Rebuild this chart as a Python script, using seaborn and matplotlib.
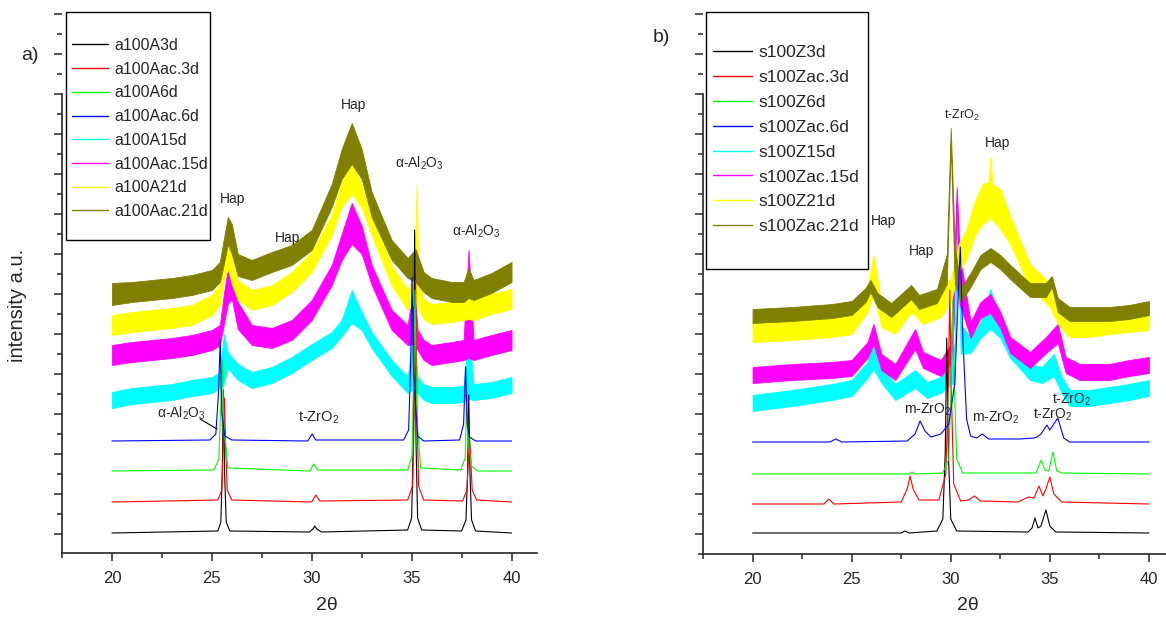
import matplotlib
matplotlib.use("Agg")
import matplotlib.pyplot as plt
from matplotlib.lines import Line2D
from matplotlib.patches import Rectangle
from matplotlib.ticker import MultipleLocator
import seaborn as sns

# ---------------------------------------------------------------- data (a.u.)
# panel a) -- sharp (clean) patterns
a3d_x = [20, 25.3, 25.45, 25.52, 25.58, 25.64, 25.72, 25.9, 29.9, 30.1, 30.15, 30.25, 30.5,
         34.8, 35.0, 35.08, 35.15, 35.22, 35.3, 35.5, 37.5, 37.72, 37.8, 37.86, 37.92, 38.0, 38.2, 40]
a3d_y = [1, 3, 12, 60, 144, 60, 12, 3, 2, 6, 8, 5, 2,
         4, 16, 90, 304, 90, 16, 4, 3, 14, 60, 139, 60, 14, 3, 1]
aac3d_x = [20, 25.3, 25.5, 25.57, 25.63, 25.69, 25.77, 26.0, 30.0, 30.2, 30.4, 34.8, 35.05,
           35.13, 35.2, 35.27, 35.35, 35.6, 37.55, 37.77, 37.85, 37.9, 37.95, 38.03, 38.25, 40]
aac3d_y = [32, 34, 44, 90, 136, 90, 44, 34, 32, 39, 33, 34, 48,
           120, 254, 120, 48, 34, 33, 44, 80, 96, 80, 44, 34, 32]
a6d_x = [20, 25.1, 25.35, 25.45, 25.52, 25.6, 25.8, 29.9, 30.1, 30.3, 34.8, 35.02, 35.1,
         35.17, 35.25, 35.45, 37.45, 37.68, 37.76, 37.84, 38.0, 38.3, 40]
a6d_y = [63, 64, 75, 130, 174, 110, 66, 63, 70, 64, 64, 78, 160,
         244, 120, 66, 64, 76, 137, 90, 68, 63, 63]
aac6d_x = [20, 24.9, 25.2, 25.33, 25.42, 25.5, 25.65, 26.0, 29.8, 30.02, 30.2, 34.6, 34.85,
           34.95, 35.02, 35.1, 35.3, 35.6, 37.4, 37.6, 37.7, 37.78, 37.9, 38.2, 40]
aac6d_y = [93, 94, 100, 140, 194, 120, 98, 94, 93, 100, 94, 94, 104,
           170, 257, 160, 98, 93, 94, 110, 167, 110, 97, 93, 93]

# panel a) -- noisy patterns, read as lower / upper envelope of the noise
a15d_x = [20, 21, 22, 23, 24, 25, 25.4, 25.6, 25.8, 26.0, 26.3, 27, 28, 29, 30, 31, 31.5,
          32, 32.5, 33, 34, 34.8, 35.1, 35.3, 35.6, 36, 37, 37.6, 37.85, 38.1, 39, 40]
a15d_lo = [126, 130, 132, 134, 138, 141, 146, 150, 166, 161, 154, 146, 151, 161, 174, 186, 198,
           211, 204, 186, 158, 141, 145, 141, 134, 131, 131, 132, 135, 134, 136, 141]
a15d_hi = [142, 146, 148, 150, 154, 157, 162, 200, 182, 177, 170, 162, 167, 177, 190, 202, 214,
           244, 222, 202, 174, 157, 205, 157, 150, 147, 147, 148, 205, 150, 152, 157]
aac15d_x = a15d_x
aac15d_lo = [169, 172, 174, 176, 179, 184, 189, 210, 230, 235, 205, 189, 186, 194, 214, 249, 274,
             290, 280, 249, 204, 189, 190, 184, 174, 169, 172, 174, 176, 174, 179, 184]
aac15d_hi = [189, 192, 194, 196, 199, 204, 209, 240, 265, 269, 232, 209, 206, 214, 234, 269, 300,
             331, 308, 269, 224, 209, 250, 204, 194, 189, 192, 194, 284, 194, 199, 204]
a21d_x = [20, 21, 22, 23, 24, 25, 25.4, 25.6, 25.8, 26.0, 26.3, 27, 28, 29, 30, 31, 31.5, 32,
          32.5, 33, 34, 34.8, 35.15, 35.25, 35.35, 35.6, 36, 37, 37.6, 37.85, 38.1, 39, 40]
a21d_lo = [199, 202, 204, 206, 209, 219, 229, 255, 265, 250, 234, 224, 229, 242, 262, 299, 327,
           340, 327, 299, 249, 224, 230, 240, 225, 215, 210, 212, 214, 215, 214, 220, 225]
a21d_hi = [219, 222, 224, 226, 229, 239, 249, 290, 295, 280, 254, 244, 249, 262, 282, 319, 352,
           371, 350, 319, 269, 244, 260, 350, 255, 235, 230, 232, 234, 250, 234, 240, 245]
aac21d_x = [20, 21, 22, 23, 24, 25, 25.4, 25.6, 25.8, 26.0, 26.3, 27, 28, 29, 30, 31, 31.5, 32,
            32.5, 33, 34, 34.8, 35.2, 35.6, 36, 37, 37.6, 37.85, 38.1, 39, 40]
aac21d_lo = [229, 232, 234, 236, 239, 244, 252, 270, 290, 280, 258, 254, 262, 269, 284, 327, 355,
             370, 355, 317, 274, 256, 252, 242, 236, 232, 232, 236, 234, 241, 252]
aac21d_hi = [251, 252, 254, 256, 259, 264, 272, 295, 317, 310, 280, 274, 282, 289, 304, 350, 385,
             411, 385, 342, 294, 276, 285, 262, 256, 252, 252, 266, 254, 261, 272]

# panel b) -- sharp (clean) patterns
z3d_x = [20, 27.5, 27.7, 27.9, 29.3, 29.6, 29.72, 29.8, 29.88, 30.0, 30.3, 33.9, 34.1, 34.25,
         34.4, 34.55, 34.8, 35.0, 35.3, 40]
z3d_y = [1, 1, 3, 1, 3, 15, 80, 196, 80, 15, 3, 2, 6, 16, 6, 8, 24, 8, 2, 1]
zac3d_x = [20, 23.6, 23.85, 24.1, 27.5, 27.8, 27.95, 28.1, 28.4, 29.4, 29.75, 29.88, 29.95,
           30.02, 30.15, 30.5, 30.9, 31.2, 31.5, 33.4, 33.9, 34.2, 34.45, 34.65, 34.8, 35.0,
           35.2, 35.6, 40]
zac3d_y = [30, 30, 35, 30, 32, 45, 58, 45, 34, 34, 60, 150, 244, 150, 50, 33, 34, 38, 33, 32,
           37, 36, 48, 38, 45, 57, 40, 32, 30]
z6d_x = [20, 27.9, 28.05, 28.2, 29.6, 29.9, 30.02, 30.1, 30.18, 30.3, 30.6, 34.3, 34.56, 34.75,
         34.95, 35.15, 35.35, 35.6, 40]
z6d_y = [60, 60, 62, 60, 61, 75, 150, 234, 150, 75, 61, 61, 74, 64, 63, 82, 63, 61, 60]
zac6d_x = [20, 23.9, 24.2, 24.5, 27.8, 28.2, 28.45, 28.7, 29.0, 29.5, 29.9, 30.2, 30.38, 30.48,
           30.6, 30.8, 31.0, 31.3, 31.6, 31.9, 33.5, 34.2, 34.36, 34.55, 34.85, 35.0, 35.4,
           35.7, 36.0, 40]
zac6d_y = [92, 92, 95, 92, 93, 100, 113, 103, 97, 100, 110, 150, 240, 287, 200, 115, 98, 96,
           100, 95, 95, 96, 97, 100, 109, 104, 116, 96, 92, 92]

# panel b) -- noisy patterns
z15d_x = [20, 22, 24, 25, 25.8, 26.1, 26.5, 27.2, 28.2, 28.8, 29.5, 30.0, 30.2, 30.35, 30.5,
          31.0, 31.5, 32.0, 32.5, 33.0, 34.0, 34.6, 35.2, 35.6, 36.0, 37.0, 38.0, 39.0, 40.0]
z15d_lo = [123, 128, 134, 138, 156, 165, 151, 134, 146, 136, 141, 150, 150, 290, 180,
           181, 196, 205, 196, 176, 154, 151, 158, 141, 128, 128, 131, 134, 138]
z15d_hi = [139, 144, 150, 154, 172, 195, 167, 150, 164, 152, 157, 180, 190, 317, 210,
           197, 212, 245, 212, 192, 170, 167, 180, 157, 144, 144, 147, 150, 154]
zac15d_x = [20, 22, 24, 25, 25.8, 26.1, 26.5, 27.2, 28.2, 28.6, 29.5, 30.0, 30.15, 30.3, 30.45,
            31.0, 31.5, 32.0, 32.5, 33.0, 34.0, 34.8, 35.4, 35.8, 36.5, 38.0, 39.0, 40.0]
zac15d_lo = [151, 154, 156, 158, 176, 190, 164, 154, 185, 166, 158, 170, 210, 330, 230,
             196, 216, 221, 206, 181, 166, 181, 191, 161, 154, 154, 158, 161]
zac15d_hi = [167, 170, 172, 174, 192, 210, 180, 170, 205, 182, 174, 190, 260, 347, 280,
             212, 232, 240, 222, 197, 182, 197, 210, 177, 170, 170, 174, 177]
z21d_x = [20, 22, 24, 25, 25.8, 26.1, 26.5, 27.2, 28.0, 28.6, 29.5, 30.0, 30.4, 30.8, 31.2,
          31.6, 31.9, 32.0, 32.1, 32.5, 33.0, 34.0, 35.0, 35.5, 36.0, 37.0, 38.0, 39.0, 40.0]
z21d_lo = [192, 194, 197, 200, 222, 240, 207, 200, 222, 210, 217, 232, 262, 275, 298,
           310, 314, 318, 314, 305, 290, 246, 227, 207, 197, 197, 200, 202, 204]
z21d_hi = [216, 218, 221, 224, 246, 279, 231, 224, 246, 234, 241, 256, 290, 305, 332,
           350, 352, 377, 350, 345, 318, 270, 251, 231, 221, 221, 224, 226, 228]
zac21d_x = [20, 22, 24, 25, 25.7, 25.95, 26.3, 27.0, 28.0, 28.4, 29.3, 29.8, 30.0, 30.2, 30.5,
            31.0, 31.5, 32.0, 32.5, 33.0, 34.0, 34.8, 35.1, 35.4, 36.0, 38.0, 39.0, 40.0]
zac21d_lo = [211, 213, 216, 219, 232, 242, 227, 217, 235, 225, 231, 250, 390, 250, 232,
             247, 265, 272, 265, 255, 237, 237, 247, 222, 213, 213, 215, 219]
zac21d_hi = [225, 227, 230, 233, 246, 254, 241, 231, 249, 239, 245, 280, 406, 290, 246,
             261, 279, 286, 279, 269, 251, 251, 258, 236, 227, 227, 229, 233]

labels_a = ["a100A3d", "a100Aac.3d", "a100A6d", "a100Aac.6d",
            "a100A15d", "a100Aac.15d", "a100A21d", "a100Aac.21d"]
labels_b = ["s100Z3d", "s100Zac.3d", "s100Z6d", "s100Zac.6d",
            "s100Z15d", "s100Zac.15d", "s100Z21d", "s100Zac.21d"]
colors = ["#000000", "#ff0000", "#00ff00", "#0000ff",
          "#00ffff", "#ff00ff", "#ffff00", "#808000"]

# ---------------------------------------------------------------- style
sns.set_style("ticks")
plt.rcParams["font.family"] = ["Liberation Sans", "DejaVu Sans"]
plt.rcParams["mathtext.fontset"] = "custom"
plt.rcParams["mathtext.rm"] = "Liberation Sans"
plt.rcParams["mathtext.default"] = "regular"

W, H = 1166, 618


def fx(px):
    return px / W


def fy(py):
    return 1 - py / H


fig = plt.figure(figsize=(W / 100, H / 100), dpi=100)
ax_a = fig.add_axes([fx(62), fy(553), fx(474.5), 541 / H])
ax_b = fig.add_axes([fx(703), fy(554), fx(463), 542 / H])


def draw_clean(ax, xs, ys, color):
    sns.lineplot(x=xs, y=ys, ax=ax, color=color, linewidth=0.8,
                 sort=False, estimator=None, legend=False)


def draw_noisy(ax, xs, lo, hi, color):
    ax.fill_between(xs, lo, hi, color=color, linewidth=0.6)


def style_axes(ax, xlim, ylim):
    ax.set_xlim(*xlim)
    ax.set_ylim(*ylim)
    ax.set_xticks([20, 25, 30, 35, 40])
    ax.xaxis.set_minor_locator(MultipleLocator(2.5))
    ax.yaxis.set_major_locator(MultipleLocator(40))
    ax.yaxis.set_minor_locator(MultipleLocator(20))
    ax.set_yticklabels([])
    ax.spines["top"].set_visible(False)
    ax.spines["right"].set_visible(False)
    ax.spines["left"].set_bounds(ylim[0], 440)
    for s in ("left", "bottom"):
        ax.spines[s].set_linewidth(1.2)
    ax.tick_params(which="major", length=6, width=1.1, labelsize=12, pad=7, direction="out")
    ax.tick_params(which="minor", length=3.5, width=1.1, direction="out")
    ax.set_xlabel("")
    ax.set_ylabel("")
    ax.patch.set_alpha(0)


# panel a
draw_clean(ax_a, a3d_x, a3d_y, colors[0])
draw_clean(ax_a, aac3d_x, aac3d_y, colors[1])
draw_clean(ax_a, a6d_x, a6d_y, colors[2])
draw_clean(ax_a, aac6d_x, aac6d_y, colors[3])
draw_noisy(ax_a, a15d_x, a15d_lo, a15d_hi, colors[4])
draw_noisy(ax_a, aac15d_x, aac15d_lo, aac15d_hi, colors[5])
draw_noisy(ax_a, a21d_x, a21d_lo, a21d_hi, colors[6])
draw_noisy(ax_a, aac21d_x, aac21d_lo, aac21d_hi, colors[7])
style_axes(ax_a, (17.5, 41.25), (-19, 522))

# panel b
draw_clean(ax_b, z3d_x, z3d_y, colors[0])
draw_clean(ax_b, zac3d_x, zac3d_y, colors[1])
draw_clean(ax_b, z6d_x, z6d_y, colors[2])
draw_clean(ax_b, zac6d_x, zac6d_y, colors[3])
draw_noisy(ax_b, z15d_x, z15d_lo, z15d_hi, colors[4])
draw_noisy(ax_b, zac15d_x, zac15d_lo, zac15d_hi, colors[5])
draw_noisy(ax_b, z21d_x, z21d_lo, z21d_hi, colors[6])
draw_noisy(ax_b, zac21d_x, zac21d_lo, zac21d_hi, colors[7])
style_axes(ax_b, (17.5, 40.86), (-20, 522))

# legends: plain box + frameless legend inside
for (x0, y0, x1, y1) in [(66, 12, 210, 240), (706, 12, 868, 269)]:
    fig.add_artist(Rectangle((fx(x0), fy(y1)), fx(x1 - x0), (y1 - y0) / H,
                             transform=fig.transFigure, facecolor="white",
                             edgecolor="black", linewidth=1.0, zorder=5))

handles = [Line2D([], [], color=c, linewidth=1.0) for c in colors]
leg_a = fig.legend(handles, labels_a, loc="upper left", bbox_to_anchor=(fx(72), fy(38)),
                   frameon=False, fontsize=11.4, handlelength=2.3, handletextpad=0.35,
                   labelspacing=0.55, borderpad=0, borderaxespad=0)
leg_a.set_zorder(6)
leg_b = fig.legend(handles, labels_b, loc="upper left", bbox_to_anchor=(fx(713), fy(45)),
                   frameon=False, fontsize=12.5, handlelength=2.25, handletextpad=0.35,
                   labelspacing=0.56, borderpad=0, borderaxespad=0)
leg_b.set_zorder(6)

# panel letters and axis titles
fig.text(fx(30), fy(55), "a)", fontsize=14, ha="center", va="center")
fig.text(fx(661), fy(38), "b)", fontsize=14, ha="center", va="center")
fig.text(fx(18), fy(305), "intensity a.u.", fontsize=14.5, rotation=90, ha="center", va="center")
fig.text(fx(327), fy(606), "2θ", fontsize=14, ha="center", va="center")
fig.text(fx(968), fy(606), "2θ", fontsize=14, ha="center", va="center")

# phase labels, panel a
ann = dict(fontsize=10, ha="center", va="center")
fig.text(fx(233), fy(199), "Hap", **ann)
fig.text(fx(288), fy(238), "Hap", **ann)
fig.text(fx(354), fy(105), "Hap", **ann)
fig.text(fx(395), fy(163), r"α-Al$_2$O$_3$", fontsize=10, ha="left", va="center")
fig.text(fx(452), fy(231), r"α-Al$_2$O$_3$", fontsize=10, ha="left", va="center")
fig.text(fx(157), fy(413), r"α-Al$_2$O$_3$", fontsize=10, ha="left", va="center")
fig.add_artist(Line2D([fx(200), fx(217)], [fy(419), fy(429)], color="black",
                      linewidth=0.8, transform=fig.transFigure))
fig.text(fx(298), fy(418), r"t-ZrO$_2$", fontsize=10.5, ha="left", va="center")

# phase labels, panel b
fig.text(fx(884), fy(221), "Hap", **ann)
fig.text(fx(922), fy(251), "Hap", **ann)
fig.text(fx(998), fy(143), "Hap", **ann)
fig.text(fx(944), fy(115), r"t-ZrO$_2$", fontsize=9, ha="left", va="center")
fig.text(fx(904), fy(410), r"m-ZrO$_2$", fontsize=10, ha="left", va="center")
fig.text(fx(972), fy(418), r"m-ZrO$_2$", fontsize=10, ha="left", va="center")
fig.text(fx(1033), fy(415), r"t-ZrO$_2$", fontsize=10, ha="left", va="center")
fig.text(fx(1052), fy(400), r"t-ZrO$_2$", fontsize=10, ha="left", va="center")

fig.savefig("out.png", dpi=100)
plt.close(fig)
